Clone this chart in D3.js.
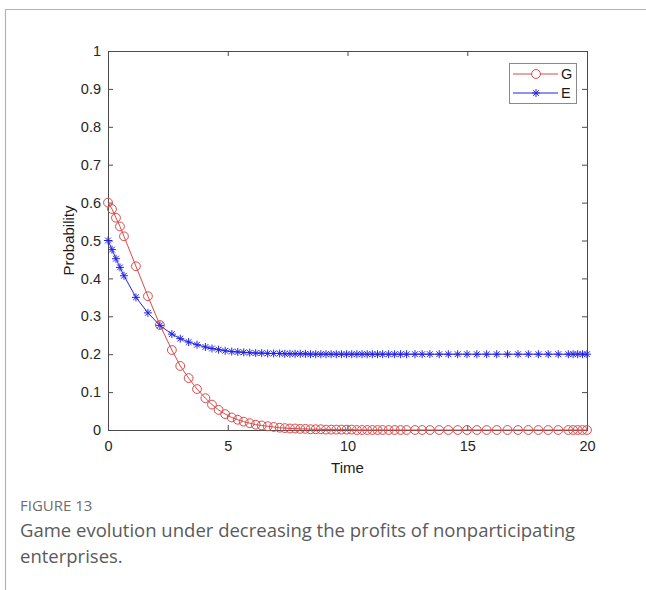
<!DOCTYPE html>
<html>
<head>
<meta charset="utf-8">
<script src="https://cdn.jsdelivr.net/npm/d3@7"></script>
<style>
  html, body { margin: 0; padding: 0; background: #fff; }
  svg { display: block; }
</style>
</head>
<body>
<script>
// ---- data ----
const time = [0, 0.167, 0.333, 0.5, 0.667, 1.167, 1.667, 2.167, 2.667, 3.017, 3.367, 3.717, 4.067,
  4.342, 4.617, 4.892, 5.167, 5.417, 5.667, 5.917, 6.167, 6.417, 6.667, 6.917, 7.167,
  7.382, 7.597, 7.812, 8.027, 8.242, 8.457, 8.672, 8.887, 9.102, 9.317, 9.532, 9.747,
  9.962, 10.177, 10.392, 10.607, 10.822, 11.037, 11.252, 11.467, 11.717, 11.967, 12.217, 12.467,
  12.817, 13.117, 13.44, 13.83, 14.21, 14.60, 14.99, 15.40, 15.81, 16.23, 16.68, 17.12,
  17.55, 17.97, 18.38, 18.80, 19.22, 19.42, 19.61, 19.81, 20.0];

const seriesG = [0.600, 0.583, 0.560, 0.537, 0.511, 0.432, 0.353, 0.277, 0.211, 0.169, 0.137, 0.108, 0.084,
  0.067, 0.053, 0.042, 0.033, 0.027, 0.022, 0.018, 0.014, 0.012, 0.010, 0.008, 0.006,
  0.005, 0.004, 0.004, 0.003, 0.003, 0.002, 0.002, 0.002, 0.001, 0.001, 0.001, 0.001,
  0.001, 0.001, 0.000, 0.000, 0.000, 0.000, 0.000, 0.000, 0.000, 0.000, 0.000, 0.000,
  0.000, 0.000, 0.000, 0.000, 0.000, 0.000, 0.000, 0.000, 0.000, 0.000, 0.000, 0.000,
  0.000, 0.000, 0.000, 0.000, 0.000, 0.000, 0.000, 0.000, 0.000];

const seriesE = [0.500, 0.476, 0.452, 0.429, 0.407, 0.350, 0.309, 0.276, 0.253, 0.241, 0.232, 0.225, 0.219,
  0.215, 0.212, 0.209, 0.207, 0.206, 0.205, 0.204, 0.203, 0.203, 0.202, 0.202, 0.202,
  0.201, 0.201, 0.201, 0.201, 0.201, 0.200, 0.200, 0.200, 0.200, 0.200, 0.200, 0.200,
  0.200, 0.200, 0.200, 0.200, 0.200, 0.200, 0.200, 0.200, 0.200, 0.200, 0.200, 0.200,
  0.200, 0.200, 0.200, 0.200, 0.200, 0.200, 0.200, 0.200, 0.200, 0.200, 0.200, 0.200,
  0.200, 0.200, 0.200, 0.200, 0.200, 0.200, 0.200, 0.200, 0.200];

const seriesNames = ["G", "E"];
const xTicks = [0, 5, 10, 15, 20];
const yTicks = [0, 0.1, 0.2, 0.3, 0.4, 0.5, 0.6, 0.7, 0.8, 0.9, 1];
const yTickLabels = ["0", "0.1", "0.2", "0.3", "0.4", "0.5", "0.6", "0.7", "0.8", "0.9", "1"];
const xLabel = "Time";
const yLabel = "Probability";
const figLabel = "FIGURE 13";
const captionLines = ["Game evolution under decreasing the profits of nonparticipating", "enterprises."];

// ---- drawing ----
const W = 646, H = 590;
const svg = d3.select("body").append("svg").attr("width", W).attr("height", H);

// page frame
svg.append("line").attr("x1", 5).attr("x2", W).attr("y1", 9.5).attr("y2", 9.5)
  .attr("stroke", "#b4b4b4").attr("stroke-width", 1.2);
svg.append("line").attr("x1", 5.5).attr("x2", 5.5).attr("y1", 9).attr("y2", H)
  .attr("stroke", "#b4b4b4").attr("stroke-width", 1.2);

const pLeft = 108, pRight = 587, pTop = 51, pBottom = 430;
const x = d3.scaleLinear().domain([0, 20]).range([pLeft, pRight]);
const y = d3.scaleLinear().domain([0, 1]).range([pBottom, pTop]);

const axisColor = "#4a4a4a";
const font = "'Liberation Sans', Arial, Helvetica, sans-serif";

function styleAxis(g, hideText) {
  g.select(".domain").remove();
  g.selectAll(".tick line").attr("stroke", axisColor).attr("stroke-width", 1);
  g.selectAll(".tick text").attr("fill", "#262626").style("font-family", font).style("font-size", "14.5px");
  if (hideText) g.selectAll(".tick text").remove();
}

svg.append("g").attr("transform", `translate(0,${pBottom})`)
  .call(d3.axisBottom(x).tickValues(xTicks).tickSize(-5).tickPadding(11).tickFormat(d3.format("d")))
  .call(g => styleAxis(g, false));
svg.append("g").attr("transform", `translate(0,${pTop})`)
  .call(d3.axisTop(x).tickValues(xTicks).tickSize(-5))
  .call(g => styleAxis(g, true));
svg.append("g").attr("transform", `translate(${pLeft},0)`)
  .call(d3.axisLeft(y).tickValues(yTicks).tickSize(-5).tickPadding(7).tickFormat((d, i) => yTickLabels[i]))
  .call(g => styleAxis(g, false));
svg.append("g").attr("transform", `translate(${pRight},0)`)
  .call(d3.axisRight(y).tickValues(yTicks).tickSize(-5))
  .call(g => styleAxis(g, true));

// box
svg.append("rect").attr("x", pLeft + 0.5).attr("y", pTop + 0.5)
  .attr("width", pRight - pLeft).attr("height", pBottom - pTop)
  .attr("fill", "none").attr("stroke", axisColor).attr("stroke-width", 1);

// axis labels
svg.append("text").attr("x", (pLeft + pRight) / 2).attr("y", 473).attr("text-anchor", "middle")
  .style("font-family", font).style("font-size", "15px").attr("fill", "#1a1a1a").text(xLabel);
svg.append("text").attr("transform", `translate(74,${(pTop + pBottom) / 2}) rotate(-90)`)
  .attr("text-anchor", "middle").style("font-family", font).style("font-size", "15px")
  .attr("fill", "#1a1a1a").text(yLabel);

const redC = "#d84a4a", blueC = "#2323e6";
const dataG = time.map((t, i) => [t, seriesG[i]]);
const dataE = time.map((t, i) => [t, seriesE[i]]);
const line = d3.line().x(d => x(d[0])).y(d => y(d[1]));

const plot = svg.append("g");

function star(g, cx, cy, s, color) {
  const d = s * 0.72;
  const p = `M${cx - s},${cy}L${cx + s},${cy}M${cx},${cy - s}L${cx},${cy + s}` +
    `M${cx - d},${cy - d}L${cx + d},${cy + d}M${cx - d},${cy + d}L${cx + d},${cy - d}`;
  g.append("path").attr("d", p).attr("stroke", color).attr("stroke-width", 1).attr("fill", "none");
}

// G series: red line + circles
plot.append("path").datum(dataG).attr("d", line).attr("fill", "none").attr("stroke", redC).attr("stroke-width", 1);
plot.selectAll("circle.g").data(dataG).join("circle").attr("class", "g")
  .attr("cx", d => x(d[0])).attr("cy", d => y(d[1])).attr("r", 4.4)
  .attr("fill", "none").attr("stroke", redC).attr("stroke-width", 1);

// E series: blue line + stars
plot.append("path").datum(dataE).attr("d", line).attr("fill", "none").attr("stroke", blueC).attr("stroke-width", 1);
const starG = plot.append("g");
dataE.forEach(d => star(starG, x(d[0]), y(d[1]), 4, blueC));

// legend
const lg = svg.append("g");
lg.append("rect").attr("x", 509.5).attr("y", 63.5).attr("width", 67).attr("height", 40)
  .attr("fill", "#fff").attr("stroke", "#8a8a8a").attr("stroke-width", 1);
const legY = [74, 93];
const legColors = [redC, blueC];
seriesNames.forEach((name, i) => {
  lg.append("line").attr("x1", 513).attr("x2", 558).attr("y1", legY[i]).attr("y2", legY[i])
    .attr("stroke", legColors[i]).attr("stroke-width", 1);
  if (i === 0) {
    lg.append("circle").attr("cx", 536).attr("cy", legY[i]).attr("r", 4.4)
      .attr("fill", "#fff").attr("stroke", redC).attr("stroke-width", 1);
  } else {
    star(lg, 536, legY[i], 4, blueC);
  }
  lg.append("text").attr("x", 561).attr("y", legY[i] + 5.2).style("font-family", font)
    .style("font-size", "14.5px").attr("fill", "#1a1a1a").text(name);
});

// caption
const capFont = "'Open Sans', 'Noto Sans', sans-serif";
svg.append("text").attr("x", 20).attr("y", 511).style("font-family", capFont)
  .style("font-size", "15px").attr("fill", "#6e6e6e").text(figLabel);
const capY = [537, 563];
const capNodes = captionLines.map((t, i) => svg.append("text").attr("x", 20).attr("y", capY[i])
  .style("font-family", capFont).style("font-size", "18px").attr("fill", "#5a5a5a").text(t));
// fit first caption line to reference width
const w0 = capNodes[0].node().getComputedTextLength();
const fs = 18 * 555 / w0;
capNodes.forEach(n => n.style("font-size", fs.toFixed(2) + "px"));
</script>
</body>
</html>
